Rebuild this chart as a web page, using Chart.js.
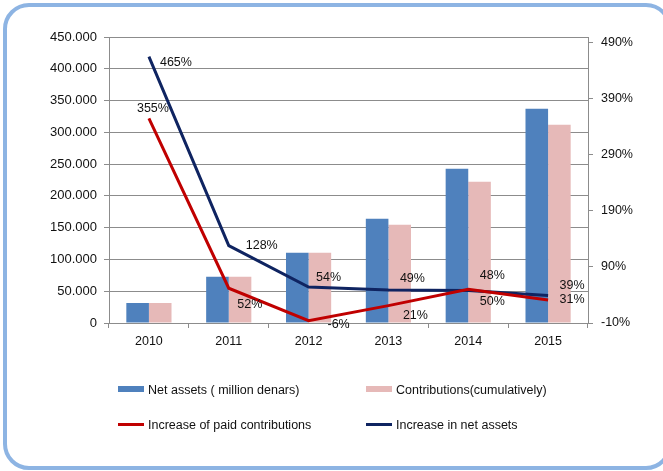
<!DOCTYPE html>
<html>
<head>
<meta charset="utf-8">
<script src="https://cdn.jsdelivr.net/npm/chart.js@4/dist/chart.umd.min.js"></script>
<style>
  html, body { margin: 0; padding: 0; background: #fff; overflow: hidden; }
  #wrap { position: relative; width: 663px; height: 471px; }
  #chart { position: absolute; left: 0; top: 0; }
  #frame {
    position: absolute; left: 3px; top: 3px; width: 669px; height: 467px;
    box-sizing: border-box; border: 4px solid #8db4e3; border-radius: 26px;
    pointer-events: none;
  }
  .lg { position: absolute; font: 12.5px "Liberation Sans", Arial, sans-serif; color: #111; white-space: nowrap; }
  .lg i { position: absolute; left: 0; width: 26px; }
  .lg span { position: absolute; left: 30px; top: -6px; }
</style>
</head>
<body>
<div id="wrap">
  <canvas id="chart" width="663" height="471"></canvas>
  <div id="frame"></div>
  <div id="legend"></div>
</div>
<script>
// Data
const years = ["2010", "2011", "2012", "2013", "2014", "2015"];
const netAssets = [31500, 72800, 110500, 164000, 242800, 337000];
const contributions = [31500, 72800, 110500, 154700, 222300, 312000];
const paidIncrease = [355, 52, -6, 21, 50, 31];
const assetsIncrease = [465, 128, 54, 49, 48, 39];
const leftTicks = [0, 50000, 100000, 150000, 200000, 250000, 300000, 350000, 400000, 450000];
const rightTicks = [-10, 90, 190, 290, 390, 490];

// Label offsets (px from point) for the percentage labels
const paidOffsets = [[4, -10], [21, 16], [30, 4], [27, 10], [24, 12], [24, 0]];
const assetsOffsets = [[27, 6], [33, 0], [20, -10], [24, -11], [24, -15], [24, -10]];

const FONT = "Liberation Sans";
const GRID = "#8c8c8c";
const TEXT = "#111";

function fmtThousands(v) {
  if (v === 0) return "0";
  return String(v).replace(/\B(?=(\d{3})+(?!\d))/g, ".");
}

const pctLabels = {
  id: "pctLabels",
  afterDatasetsDraw(chart) {
    const ctx = chart.ctx;
    ctx.save();
    ctx.font = "12.5px " + FONT;
    ctx.fillStyle = TEXT;
    ctx.textAlign = "center";
    ctx.textBaseline = "middle";
    chart.data.datasets.forEach((ds, i) => {
      if (!ds.offsets) return;
      const meta = chart.getDatasetMeta(i);
      meta.data.forEach((pt, j) => {
        const off = ds.offsets[j];
        ctx.fillText(ds.data[j] + "%", pt.x + off[0], pt.y + off[1]);
      });
    });
    ctx.restore();
  }
};

const chart = new Chart(document.getElementById("chart"), {
  type: "bar",
  data: {
    labels: years,
    datasets: [
      {
        type: "line",
        label: "Increase of paid contributions",
        data: paidIncrease,
        yAxisID: "y1",
        borderColor: "#c00000",
        borderWidth: 3,
        pointRadius: 0,
        tension: 0,
        order: 0,
        offsets: paidOffsets
      },
      {
        type: "line",
        label: "Increase in net assets",
        data: assetsIncrease,
        yAxisID: "y1",
        borderColor: "#0f2461",
        borderWidth: 3,
        pointRadius: 0,
        tension: 0,
        order: 0,
        offsets: assetsOffsets
      },
      {
        label: "Net assets ( million denars)",
        data: netAssets,
        yAxisID: "y",
        backgroundColor: "#4f81bd",
        barPercentage: 1,
        categoryPercentage: 0.566,
        order: 1
      },
      {
        label: "Contributions(cumulatively)",
        data: contributions,
        yAxisID: "y",
        backgroundColor: "#e6b9b8",
        barPercentage: 1,
        categoryPercentage: 0.566,
        order: 1
      }
    ]
  },
  options: {
    responsive: false,
    animation: false,
    layout: { padding: { top: 37, left: 0, right: 0, bottom: 0 } },
    plugins: {
      legend: { display: false },
      tooltip: { enabled: false }
    },
    scales: {
      x: {
        offset: true,
        grid: { offset: true, drawOnChartArea: false, drawTicks: true, tickLength: 5, color: GRID },
        border: { color: GRID, width: 1 },
        ticks: { color: TEXT, font: { family: FONT, size: 12.5 }, padding: 6 },
        afterFit(s) { s.height = 148; }
      },
      y: {
        position: "left",
        min: 0,
        max: 450000,
        afterBuildTicks(s) { s.ticks = leftTicks.map(v => ({ value: v })); },
        grid: { color: GRID, tickLength: 5 },
        border: { color: GRID, width: 1 },
        ticks: {
          color: TEXT,
          font: { family: FONT, size: 13 },
          padding: 7,
          callback: v => fmtThousands(v)
        },
        afterFit(s) { s.width = 109; }
      },
      y1: {
        position: "right",
        min: -10,
        max: 500,
        afterBuildTicks(s) { s.ticks = rightTicks.map(v => ({ value: v })); },
        grid: { drawOnChartArea: false, color: GRID, tickLength: 5 },
        border: { color: GRID, width: 1 },
        ticks: {
          color: TEXT,
          font: { family: FONT, size: 12.5 },
          padding: 8,
          callback: v => v + "%"
        },
        afterFit(s) { s.width = 75; }
      }
    }
  },
  plugins: [pctLabels]
});

// HTML legend, 2x2 grid under the plot
const legendSlots = [
  { ds: 2, x: 118, y: 389 },
  { ds: 3, x: 366, y: 389 },
  { ds: 0, x: 118, y: 424 },
  { ds: 1, x: 366, y: 424 }
];
const legendEl = document.getElementById("legend");
legendSlots.forEach(slot => {
  const ds = chart.data.datasets[slot.ds];
  const item = document.createElement("div");
  item.className = "lg";
  item.style.left = slot.x + "px";
  item.style.top = slot.y + "px";
  const sym = document.createElement("i");
  if (ds.type === "line") {
    sym.style.height = "3px";
    sym.style.top = "-1px";
    sym.style.background = ds.borderColor;
  } else {
    sym.style.height = "6px";
    sym.style.top = "-3px";
    sym.style.background = ds.backgroundColor;
  }
  const txt = document.createElement("span");
  txt.textContent = ds.label;
  item.appendChild(sym);
  item.appendChild(txt);
  legendEl.appendChild(item);
});
</script>
</body>
</html>
